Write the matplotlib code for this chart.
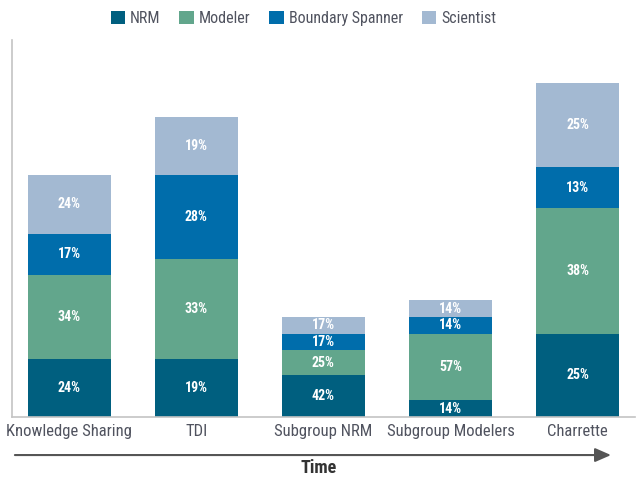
import matplotlib
matplotlib.use('Agg')
import matplotlib.pyplot as plt
from matplotlib import font_manager
from matplotlib.patches import FancyArrowPatch
import numpy as np

# counts per role for each stage (labels show share of stage total)
stages = ['Knowledge Sharing', 'TDI', 'Subgroup NRM', 'Subgroup Modelers', 'Charrette']
roles = ['NRM', 'Modeler', 'Boundary Spanner', 'Scientist']
nrm = [7, 7, 5, 2, 10]
modeler = [10, 12, 3, 8, 15]
boundary = [5, 10, 2, 2, 5]
scientist = [7, 7, 2, 2, 10]
pct_labels = [
    ['24%', '19%', '42%', '14%', '25%'],
    ['34%', '33%', '25%', '57%', '38%'],
    ['17%', '28%', '17%', '14%', '13%'],
    ['24%', '19%', '17%', '14%', '25%'],
]
colors = ['#005f7f', '#62a68c', '#006dab', '#a3b9d2']

# pick a narrow-ish font if one is installed
names = {f.name for f in font_manager.fontManager.ttflist}
font = 'DejaVu Sans'
for cand in ['Roboto Condensed', 'Liberation Sans Narrow', 'Open Sans Condensed', 'Roboto']:
    if cand in names:
        font = cand
        break
plt.rcParams['font.family'] = [font, 'DejaVu Sans']

fig = plt.figure(figsize=(6.38, 4.79), dpi=100)
ax = fig.add_axes([0.0188, 0.1294, 0.9762, 0.7871])

x = np.arange(len(stages))
bottom = np.zeros(len(stages))
series = [nrm, modeler, boundary, scientist]
for vals, col, lab, pl in zip(series, colors, roles, pct_labels):
    vals = np.array(vals, dtype=float)
    ax.bar(x, vals, 0.65, bottom=bottom, color=col, label=lab)
    for xi, b, v, t in zip(x, bottom, vals, pl):
        ax.text(xi, b + v / 2, t, ha='center', va='center', color='white',
                fontsize=10, fontweight='bold')
    bottom += vals

ax.set_xlim(-0.45, 4.45)
ax.set_ylim(0, 45.2)
ax.set_xticks(x)
ax.set_xticklabels(stages, fontsize=12, color='#50535f')
ax.tick_params(axis='x', length=0, pad=5)
ax.set_yticks([])
for s in ['top', 'right']:
    ax.spines[s].set_visible(False)
for s in ['left', 'bottom']:
    ax.spines[s].set_color('#c4c4c4')
    ax.spines[s].set_linewidth(1.2)

fig.legend(loc='center right', bbox_to_anchor=(0.80, 0.962), ncol=4, frameon=False,
           fontsize=11.5, handlelength=0.9, handleheight=0.9, handletextpad=0.3,
           columnspacing=1.2, labelcolor='#50535f')

fig.add_artist(FancyArrowPatch(
    (0.019, 0.050), (0.962, 0.050), transform=fig.transFigure,
    arrowstyle='-|>,head_length=0.8,head_width=0.35', mutation_scale=12,
    color='#555555', linewidth=1.5))
fig.text(0.50, 0.024, 'Time', ha='center', va='center', fontsize=13,
         fontweight='bold', color='#333333')

fig.savefig('out.png', dpi=100)
